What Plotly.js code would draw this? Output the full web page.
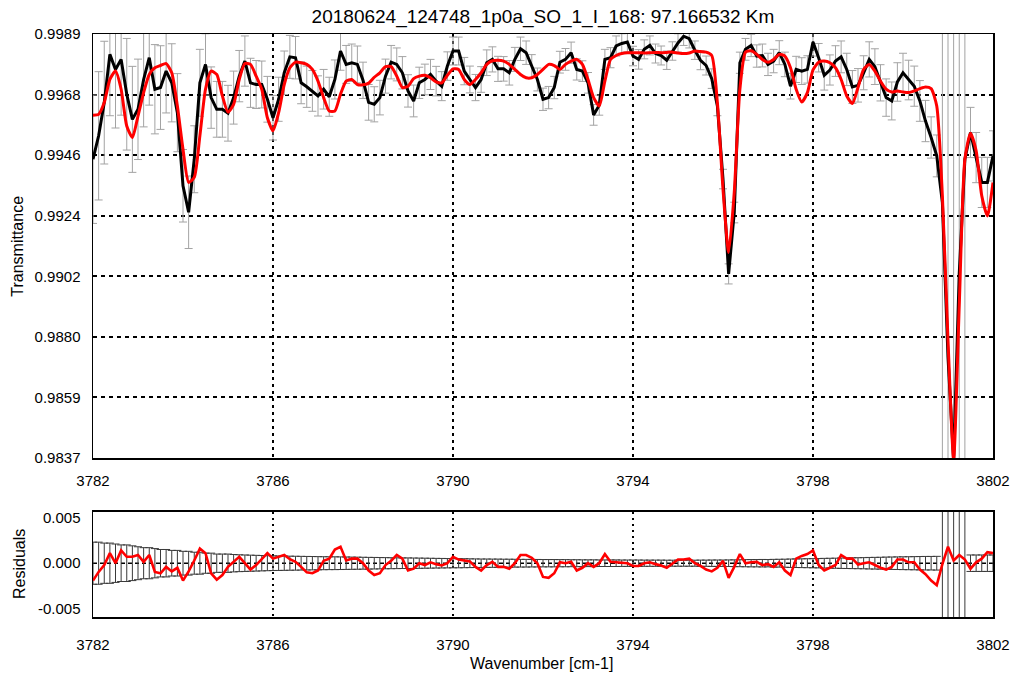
<!DOCTYPE html>
<html><head><meta charset="utf-8">
<script src="https://cdn.plot.ly/plotly-3.0.1.min.js"></script>
<style>html,body{margin:0;padding:0;background:#fff}#chart{width:1013px;height:675px}</style>
</head><body><div id="chart"></div>
<script>
const wn = [
3782,3782.125,3782.25,3782.375,3782.5,3782.625,3782.75,3782.875,
3783,3783.125,3783.25,3783.375,3783.5,3783.625,3783.75,3783.875,
3784,3784.125,3784.25,3784.375,3784.5,3784.625,3784.75,3784.875,
3785,3785.125,3785.25,3785.375,3785.5,3785.625,3785.75,3785.875,
3786,3786.125,3786.25,3786.375,3786.5,3786.625,3786.75,3786.875,
3787,3787.125,3787.25,3787.375,3787.5,3787.625,3787.75,3787.875,
3788,3788.125,3788.25,3788.375,3788.5,3788.625,3788.75,3788.875,
3789,3789.125,3789.25,3789.375,3789.5,3789.625,3789.75,3789.875,
3790,3790.125,3790.25,3790.375,3790.5,3790.625,3790.75,3790.875,
3791,3791.125,3791.25,3791.375,3791.5,3791.625,3791.75,3791.875,
3792,3792.125,3792.25,3792.375,3792.5,3792.625,3792.75,3792.875,
3793,3793.125,3793.25,3793.375,3793.5,3793.625,3793.75,3793.875,
3794,3794.125,3794.25,3794.375,3794.5,3794.625,3794.75,3794.875,
3795,3795.125,3795.25,3795.375,3795.5,3795.625,3795.75,3795.875,
3796,3796.125,3796.25,3796.375,3796.5,3796.625,3796.75,3796.875,
3797,3797.125,3797.25,3797.375,3797.5,3797.625,3797.75,3797.875,
3798,3798.125,3798.25,3798.375,3798.5,3798.625,3798.75,3798.875,
3799,3799.125,3799.25,3799.375,3799.5,3799.625,3799.75,3799.875,
3800,3800.125,3800.25,3800.375,3800.5,3800.625,3800.75,3800.875,
3801,3801.125,3801.25,3801.375,3801.5,3801.625,3801.75,3801.875,
3802];

const obs = [
0.99441,0.99525,0.99644,0.99817,0.99763,0.99799,0.99674,0.99584,
0.99620,0.99727,0.99805,0.99692,0.99698,0.99757,0.99715,0.99608,
0.99346,0.99251,0.99441,0.99715,0.99781,0.99662,0.99620,0.99620,
0.99606,0.99662,0.99739,0.99793,0.99715,0.99709,0.99709,0.99656,
0.99590,0.99656,0.99751,0.99808,0.99805,0.99715,0.99701,0.99686,
0.99668,0.99692,0.99665,0.99727,0.99829,0.99781,0.99787,0.99781,
0.99724,0.99645,0.99638,0.99662,0.99739,0.99789,0.99781,0.99751,
0.99686,0.99650,0.99715,0.99727,0.99745,0.99721,0.99703,0.99775,
0.99829,0.99829,0.99757,0.99727,0.99698,0.99727,0.99787,0.99799,
0.99765,0.99765,0.99751,0.99799,0.99837,0.99823,0.99775,0.99727,
0.99656,0.99662,0.99698,0.99789,0.99799,0.99823,0.99763,0.99757,
0.99715,0.99600,0.99635,0.99799,0.99805,0.99847,0.99856,0.99861,
0.99811,0.99799,0.99835,0.99849,0.99820,0.99813,0.99796,0.99829,
0.99858,0.99882,0.99873,0.99832,0.99796,0.99777,0.99730,0.99632,
0.99370,0.99030,0.99250,0.99787,0.99835,0.99849,0.99811,0.99813,
0.99781,0.99793,0.99823,0.99781,0.99703,0.99763,0.99757,0.99763,
0.99861,0.99805,0.99742,0.99761,0.99793,0.99808,0.99763,0.99700,
0.99706,0.99751,0.99799,0.99773,0.99715,0.99662,0.99650,0.99718,
0.99751,0.99725,0.99703,0.99650,0.99578,0.99519,0.99453,0.99286,
0.98731,0.98362,0.99031,0.99441,0.99537,0.99447,0.99358,0.99358,
0.99453];

const fit = [
0.99599,0.99602,0.99644,0.99727,0.99757,0.99692,0.99560,0.99519,
0.99596,0.99680,0.99745,0.99769,0.99777,0.99784,0.99751,0.99632,
0.99477,0.99358,0.99376,0.99525,0.99692,0.99757,0.99745,0.99668,
0.99610,0.99638,0.99727,0.99784,0.99781,0.99739,0.99692,0.99590,
0.99543,0.99608,0.99709,0.99769,0.99789,0.99787,0.99781,0.99763,
0.99721,0.99662,0.99614,0.99614,0.99674,0.99721,0.99727,0.99709,
0.99708,0.99714,0.99735,0.99751,0.99773,0.99773,0.99739,0.99698,
0.99703,0.99730,0.99739,0.99742,0.99733,0.99718,0.99715,0.99742,
0.99765,0.99763,0.99727,0.99709,0.99727,0.99751,0.99781,0.99794,
0.99796,0.99793,0.99781,0.99763,0.99745,0.99733,0.99733,0.99745,
0.99763,0.99781,0.99777,0.99763,0.99781,0.99793,0.99799,0.99781,
0.99727,0.99662,0.99632,0.99721,0.99799,0.99813,0.99820,0.99823,
0.99823,0.99823,0.99822,0.99823,0.99824,0.99823,0.99824,0.99825,
0.99822,0.99820,0.99822,0.99829,0.99827,0.99825,0.99813,0.99644,
0.99334,0.99107,0.99322,0.99692,0.99825,0.99830,0.99817,0.99799,
0.99789,0.99799,0.99817,0.99811,0.99769,0.99692,0.99646,0.99680,
0.99761,0.99789,0.99793,0.99787,0.99769,0.99727,0.99668,0.99641,
0.99698,0.99763,0.99781,0.99757,0.99721,0.99692,0.99682,0.99686,
0.99682,0.99680,0.99686,0.99694,0.99700,0.99694,0.99632,0.99310,
0.98792,0.98365,0.98917,0.99441,0.99534,0.99471,0.99310,0.99238,
0.99358];

const resid = [
-0.0019,-0.00095,-0.0002,0.0011,0.0000,0.0014,0.0007,0.0007,
0.0009,0.00015,0.0009,-0.00095,-0.0011,-0.0004,-0.0009,-0.0005,
-0.0019,-0.0009,0.0003,0.0016,0.0011,-0.0011,-0.0018,-0.0013,
-0.0004,0.0002,0.0007,0.0000,-0.0007,-0.0002,0.0005,0.0011,
0.0005,0.0007,0.0009,0.00044,0.00015,-0.0004,-0.0010,-0.0011,
-0.0008,0.00026,0.0005,0.0015,0.0018,0.0003,0.0005,0.0005,
0.0000,-0.0008,-0.0013,-0.0011,-0.0002,0.00026,0.0009,0.0005,
-0.0008,-0.0006,0.0000,-0.0002,0.0001,-0.0001,-0.00025,0.0000,
0.0007,0.0004,0.0003,0.0002,-0.0004,-0.0008,-0.0002,0.00015,
-0.0004,-0.0004,-0.0006,0.0000,0.0009,0.0009,0.0006,0.0000,
-0.0015,-0.0016,-0.0011,0.0001,0.0000,0.00015,-0.0008,-0.0005,
0.0000,-0.0004,0.0000,0.0010,0.00015,0.0001,0.0001,0.0000,
-0.0003,-0.0003,0.0000,0.0001,-0.0001,-0.00025,-0.0005,0.0000,
0.0004,0.0004,0.0005,0.0000,-0.0003,-0.0007,-0.0009,-0.0005,
0.00026,-0.0016,-0.0004,0.0010,0.0000,0.0001,0.00015,-0.0002,
-0.0001,-0.0004,0.0001,-0.0008,-0.0013,0.0005,0.0008,0.0010,
0.0014,-0.0002,-0.0008,-0.0005,-0.0002,0.0009,0.0005,0.0005,
-0.00015,0.0000,0.0001,-0.0002,-0.0005,-0.0007,-0.0004,0.0004,
0.0004,0.0001,0.0001,-0.0007,-0.0012,-0.0019,-0.0024,-0.0001,
0.0018,0.0003,0.0009,0.0004,-0.0006,0.0001,0.0005,0.0012,
0.0011];

const err = [
0.0023,0.0023,0.0022,0.0022,0.0021,0.0020,0.0020,0.0019,
0.0018,0.0017,0.0017,0.0016,0.0015,0.0015,0.0014,0.0014,
0.0013,0.0013,0.0012,0.0012,0.0011,0.0011,0.0010,0.0010,
0.0010,0.00095,0.00092,0.0009,0.00088,0.00086,0.00084,0.00082,
0.0008,0.00079,0.00078,0.00077,0.00076,0.00075,0.00074,0.00073,
0.00072,0.00071,0.0007,0.0007,0.00069,0.00068,0.00067,0.00066,
0.00065,0.00064,0.00063,0.00062,0.00061,0.0006,0.00059,0.00058,
0.00058,0.00057,0.00056,0.00055,0.00054,0.00053,0.00052,0.00051,
0.0005,0.0005,0.00049,0.00048,0.00047,0.00046,0.00046,0.00045,
0.00045,0.00044,0.00044,0.00043,0.00042,0.00042,0.00041,0.00041,
0.0004,0.0004,0.0004,0.00039,0.00039,0.00038,0.00038,0.00037,
0.00037,0.00037,0.00036,0.00036,0.00036,0.00036,0.00035,0.00035,
0.00035,0.00035,0.00034,0.00034,0.00034,0.00034,0.00033,0.00033,
0.00033,0.00033,0.00033,0.00033,0.00034,0.00034,0.00035,0.00035,
0.00035,0.00036,0.00037,0.00038,0.00039,0.0004,0.0004,0.00041,
0.0004,0.00042,0.00043,0.00044,0.00046,0.00047,0.00048,0.00049,
0.0005,0.00051,0.00053,0.00054,0.00055,0.00057,0.00058,0.00059,
0.0006,0.00061,0.00063,0.00064,0.00065,0.00067,0.00068,0.00069,
0.0007,0.00071,0.00072,0.00073,0.00074,0.00074,0.00075,0.03,
0.03,0.03,0.03,0.03,0.0009,0.0009,0.0009,0.0009,
0.0009];

const xTickVals = [3782,3786,3790,3794,3798,3802];
const xTickText = ['3782','3786','3790','3794','3798','3802'];
const yTickVals = [0.9837,0.985871,0.988043,0.990214,0.992386,0.994557,0.996729,0.9989];
const yTickText = ['0.9837','0.9859','0.9880','0.9902','0.9924','0.9946','0.9968','0.9989'];
const rTickVals = [-0.005,0,0.005];
const rTickText = ['-0.005','0.000','0.005'];
const titleText = '20180624_124748_1p0a_SO_1_I_168: 97.166532 Km';

const zeros = wn.map(() => 0);
const FONT = '"Liberation Sans", Arial, Helvetica, sans-serif';

const traces = [
  {x: wn, y: obs, xaxis:'x', yaxis:'y', type:'scatter', mode:'markers',
   marker:{size:1, color:'rgba(0,0,0,0)'}, hoverinfo:'skip',
   error_y:{type:'data', array: err, visible:true, color:'#a3a3a3', thickness:1, width:4}},
  {x: wn, y: obs, xaxis:'x', yaxis:'y', type:'scatter', mode:'lines',
   line:{color:'#000000', width:3}},
  {x: wn, y: fit, xaxis:'x', yaxis:'y', type:'scatter', mode:'lines',
   line:{color:'#ff0000', width:3, shape:'spline', smoothing:0.6}},
  {x: wn, y: zeros, xaxis:'x2', yaxis:'y2', type:'scatter', mode:'markers',
   marker:{size:1, color:'rgba(0,0,0,0)'}, hoverinfo:'skip',
   error_y:{type:'data', array: err, visible:true, color:'#3a3a3a', thickness:1, width:4}},
  {x: wn, y: resid, xaxis:'x2', yaxis:'y2', type:'scatter', mode:'lines',
   line:{color:'#ff0000', width:2.6}}
];

const axisCommon = {showline:true, mirror:true, linecolor:'#000', linewidth:1.5,
  ticks:'', zeroline:false, tickfont:{family:FONT, size:15, color:'#000'}};

const layout = {
  width:1013, height:675,
  margin:{l:93, r:20, t:34, b:58},
  paper_bgcolor:'#ffffff', plot_bgcolor:'#ffffff',
  showlegend:false,
  font:{family:FONT, size:15, color:'#000'},
  title:{text:titleText, font:{family:FONT, size:19, color:'#000'},
         x:0.5, xref:'paper', xanchor:'center', y:1-16/675, yref:'container', yanchor:'middle'},
  xaxis: Object.assign({}, axisCommon, {domain:[0,1], anchor:'y', range:[3782,3802],
    tickvals:xTickVals, ticktext:xTickText, showgrid:true, gridcolor:'#000', gridwidth:1.8,
    griddash:'3px,4px', ticklabelstandoff:8}),
  yaxis: Object.assign({}, axisCommon, {domain:[0.2727,1], anchor:'x', range:[0.9837,0.9989],
    tickvals:yTickVals, ticktext:yTickText, showgrid:true, gridcolor:'#000', gridwidth:2,
    griddash:'4px,4px', ticklabelstandoff:8}),
  xaxis2: Object.assign({}, axisCommon, {domain:[0,1], anchor:'y2', range:[3782,3802],
    tickvals:xTickVals, ticktext:xTickText, showgrid:true, gridcolor:'#000', gridwidth:1.6,
    griddash:'2px,4px', ticklabelstandoff:13}),
  yaxis2: Object.assign({}, axisCommon, {domain:[0,0.1806], anchor:'x2', range:[-0.00588,0.00563],
    tickvals:rTickVals, ticktext:rTickText, showgrid:false, ticklabelstandoff:8}),
  shapes:[{type:'line', xref:'x2', yref:'y2', x0:3782, x1:3802, y0:0, y1:0, layer:'below',
           line:{color:'#000', width:1.4, dash:'4px,3px'}}],
  annotations:[
    {text:'Transmittance', xref:'paper', yref:'paper', x:(17.5-93)/900, y:0.636,
     textangle:-90, showarrow:false, xanchor:'center', yanchor:'middle',
     font:{family:FONT, size:16, color:'#000'}},
    {text:'Residuals', xref:'paper', yref:'paper', x:(19-93)/900, y:0.0909,
     textangle:-90, showarrow:false, xanchor:'center', yanchor:'middle',
     font:{family:FONT, size:16, color:'#000'}},
    {text:'Wavenumber [cm-1]', xref:'paper', yref:'paper', x:0.4983, y:(617-663)/583,
     showarrow:false, xanchor:'center', yanchor:'middle',
     font:{family:FONT, size:16, color:'#000'}}
  ]
};

Plotly.newPlot('chart', traces, layout, {displayModeBar:false, staticPlot:true});
</script>
</body></html>
